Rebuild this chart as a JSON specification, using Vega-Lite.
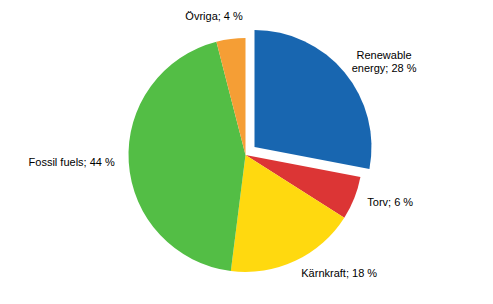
{
  "$schema": "https://vega.github.io/schema/vega-lite/v6.json",
  "width": 493,
  "height": 304,
  "padding": 0,
  "autosize": {"type": "fit", "contains": "padding"},
  "background": "white",
  "view": {"stroke": null},
  "data": {
    "values": [
      {"cat": "Renewable energy", "label": "Renewable\nenergy; 28 %", "value": 28, "k": 1},
      {"cat": "Torv", "label": "Torv; 6 %", "value": 6, "k": 2},
      {"cat": "Kärnkraft", "label": "Kärnkraft; 18 %", "value": 18, "k": 3},
      {"cat": "Fossil fuels", "label": "Fossil fuels; 44 %", "value": 44, "k": 4},
      {"cat": "Övriga", "label": "Övriga; 4 %", "value": 4, "k": 5}
    ]
  },
  "encoding": {
    "theta": {"field": "value", "type": "quantitative", "stack": true, "scale": {"domain": [0, 100]}},
    "order": {"field": "k", "type": "quantitative"},
    "color": {
      "field": "cat",
      "type": "nominal",
      "legend": null,
      "scale": {
        "domain": ["Renewable energy", "Torv", "Kärnkraft", "Fossil fuels", "Övriga"],
        "range": ["#1866b0", "#dc3535", "#ffd90f", "#53be45", "#f59e35"]
      }
    }
  },
  "layer": [
    {
      "mark": {"type": "arc", "outerRadius": 117, "xOffset": -1},
      "encoding": {
        "opacity": {"condition": {"test": "datum.cat === 'Renewable energy'", "value": 0}, "value": 1}
      }
    },
    {
      "mark": {"type": "arc", "outerRadius": 117, "xOffset": 8, "yOffset": -8},
      "encoding": {
        "opacity": {"condition": {"test": "datum.cat === 'Renewable energy'", "value": 1}, "value": 0}
      }
    },
    {
      "mark": {
        "type": "text",
        "radius": {"expr": "datum.cat === 'Övriga' ? 139 : 131"},
        "dx": {"expr": "datum.cat === 'Övriga' ? -14 : 0"},
        "xOffset": -1,
        "font": "Liberation Sans",
        "fontSize": 11,
        "fill": "black",
        "baseline": "middle",
        "align": {"expr": "datum.cat === 'Fossil fuels' ? 'right' : datum.cat === 'Övriga' ? 'center' : 'left'"}
      },
      "encoding": {
        "text": {"field": "label"},
        "color": {"value": "black"},
        "opacity": {"condition": {"test": "datum.cat === 'Renewable energy'", "value": 0}, "value": 1}
      }
    },
    {
      "mark": {
        "type": "text",
        "radius": 150,
        "xOffset": 8,
        "yOffset": -8,
        "dx": 14,
        "dy": 5,
        "font": "Liberation Sans",
        "fontSize": 11,
        "lineBreak": "\n",
        "lineHeight": 13,
        "fill": "black",
        "baseline": "middle",
        "align": "center"
      },
      "encoding": {
        "text": {"field": "label"},
        "color": {"value": "black"},
        "opacity": {"condition": {"test": "datum.cat === 'Renewable energy'", "value": 1}, "value": 0}
      }
    }
  ]
}
